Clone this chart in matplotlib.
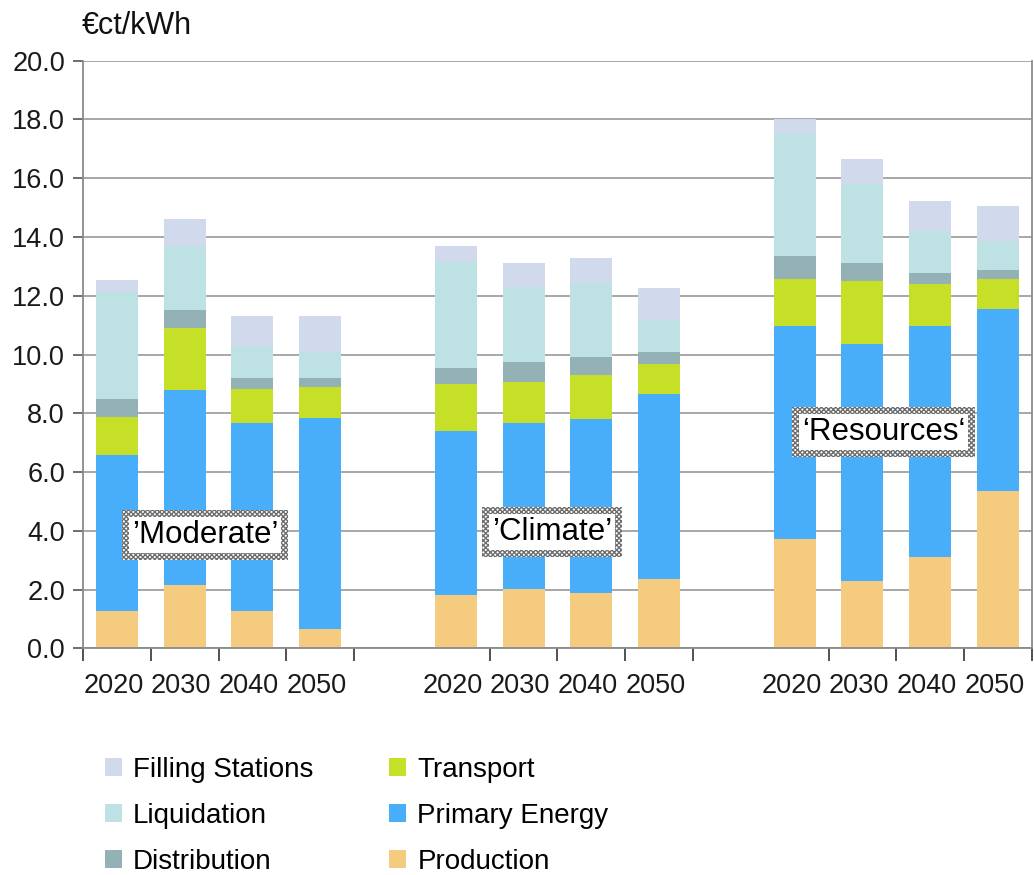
import numpy as np
import matplotlib.pyplot as plt
from matplotlib.patches import Patch

plt.rcParams['font.family'] = ['Liberation Sans', 'DejaVu Sans']
plt.rcParams['hatch.linewidth'] = 1.0

# Cost components (ct/kWh) per scenario and year
years = ['2020', '2030', '2040', '2050']
scenarios = ['\u2019Moderate\u2019', '\u2019Climate\u2019', '\u2018Resources\u2018']
production = [1.28, 2.16, 1.28, 0.67, 1.82, 2.01, 1.89, 2.36, 3.71, 2.30, 3.12, 5.36]
primary_energy = [5.30, 6.64, 6.38, 7.18, 5.57, 5.66, 5.90, 6.30, 7.25, 8.05, 7.84, 6.19]
transport = [1.29, 2.10, 1.16, 1.04, 1.62, 1.41, 1.51, 1.03, 1.61, 2.17, 1.43, 1.02]
distribution = [0.61, 0.60, 0.38, 0.31, 0.53, 0.65, 0.60, 0.39, 0.80, 0.60, 0.38, 0.32]
liquidation = [3.64, 2.18, 1.10, 0.87, 3.60, 2.58, 2.53, 1.10, 4.18, 2.67, 1.42, 0.96]
filling_stations = [0.42, 0.93, 1.02, 1.25, 0.56, 0.82, 0.85, 1.08, 0.48, 0.85, 1.04, 1.22]

# label position (slot units, value) for each scenario box
label_pos = [(1.8, 3.86), (6.92, 3.97), (11.81, 7.37)]

components = [
    ('Production', production, '#f4cb7f'),
    ('Primary Energy', primary_energy, '#48aefa'),
    ('Transport', transport, '#c5e027'),
    ('Distribution', distribution, '#94b1b6'),
    ('Liquidation', liquidation, '#bee1e3'),
    ('Filling Stations', filling_stations, '#d0daec'),
]

# 4 bars per scenario, one empty slot between scenarios
x = np.array([g * 5 + i + 0.5 for g in range(len(scenarios)) for i in range(len(years))])

fig = plt.figure(figsize=(10.34, 8.75), dpi=100)
ax = fig.add_axes([0.0803, 0.259, 0.9177, 0.6716])

bottom = np.zeros(len(x))
for name, vals, color in components:
    ax.bar(x, vals, width=0.62, bottom=bottom, color=color, label=name, zorder=2)
    bottom += np.array(vals)

ax.set_xlim(0, 14)
ax.set_ylim(0, 20)
ax.set_yticks(np.arange(0, 20.1, 2))
ax.set_yticklabels([f'{v:.1f}' for v in np.arange(0, 20.1, 2)])
ax.yaxis.grid(True, color='#a0a0a0', linewidth=1.3)
ax.set_axisbelow(True)

# tick marks at the right edge of each bar slot, year labels at bar centres
edges = [0] + list(x + 0.5)
ax.set_xticks(edges)
ax.set_xticklabels([])
ax.set_xticks(x - 0.05, minor=True)
ax.set_xticklabels(years * len(scenarios), minor=True)
ax.tick_params(axis='x', which='major', direction='out', length=9, width=1.2, color='#333333')
ax.tick_params(axis='x', which='minor', length=0, pad=18, labelsize=19.5, labelcolor='#1a1a1a')
ax.tick_params(axis='y', direction='out', length=7, width=1.2, color='#555555',
               labelsize=19.5, labelcolor='#1a1a1a', pad=6)

for side in ['left', 'bottom', 'right']:
    ax.spines[side].set_color('#8a8a8a')
    ax.spines[side].set_linewidth(1.3)
ax.spines['top'].set_visible(False)

# scenario name boxes with stippled frame
for (px, py), name in zip(label_pos, scenarios):
    ax.text(px, py, name, fontsize=22.5, color='none', ha='center', va='center', zorder=4,
            bbox=dict(boxstyle='square,pad=0.32', facecolor='white', edgecolor='#6e6e6e',
                      linewidth=0, hatch='xxxxxxx'))
    ax.text(px, py, name, fontsize=22.5, color='black', ha='center', va='center', zorder=5,
            bbox=dict(boxstyle='square,pad=0.1', facecolor='white', edgecolor='none'))

fig.text(0.079, 0.970, '\u20acct/kWh', fontsize=22, ha='left', va='center', color='#111111')

legend_order = ['Filling Stations', 'Liquidation', 'Distribution',
                'Transport', 'Primary Energy', 'Production']
colors = {name: color for name, _, color in components}
handles = [Patch(facecolor=colors[n], edgecolor='none') for n in legend_order]
fig.legend(handles, legend_order, loc='upper left', bbox_to_anchor=(0.1015, 0.135),
           ncol=2, frameon=False, fontsize=20, handlelength=0.6, handleheight=0.6,
           handletextpad=0.4, columnspacing=2.75, labelspacing=0.72, borderpad=0,
           borderaxespad=0)

fig.savefig('out.png', dpi=100)
